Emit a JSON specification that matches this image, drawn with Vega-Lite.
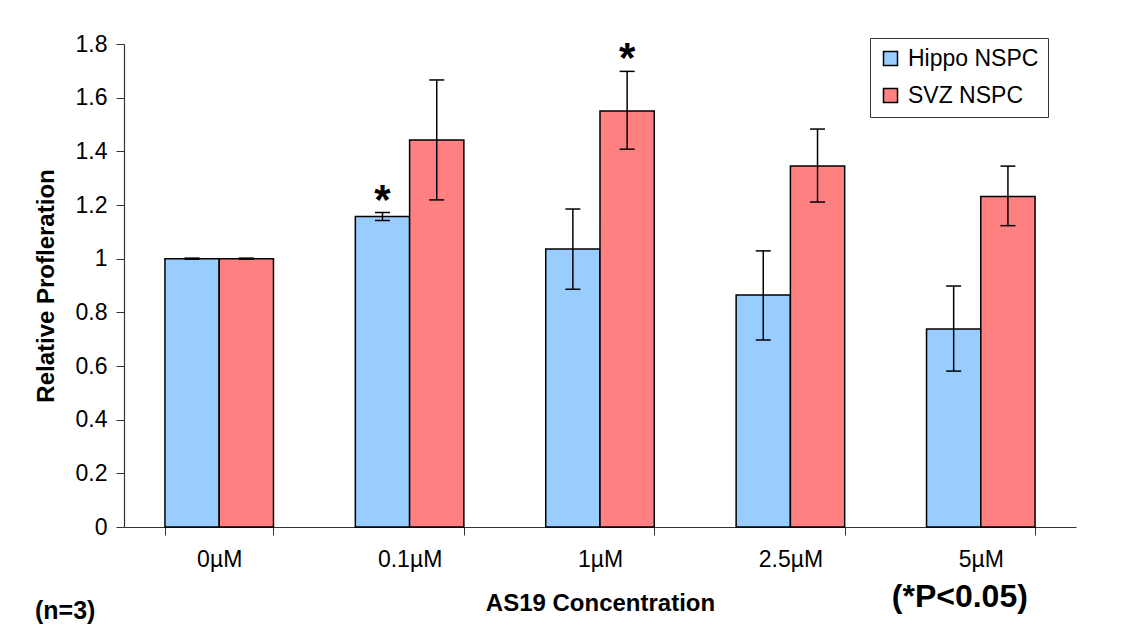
{
  "$schema": "https://vega.github.io/schema/vega-lite/v6.json",
  "width": 952,
  "height": 483,
  "autosize": "none",
  "padding": {"left": 124, "top": 44, "right": 70, "bottom": 115},
  "background": "white",
  "config": {
    "font": "Liberation Sans",
    "view": {"stroke": null}
  },
  "title": {
    "text": "(n=3)",
    "orient": "bottom",
    "anchor": "start",
    "frame": "group",
    "font": "Liberation Sans",
    "fontSize": 25,
    "fontWeight": "bold",
    "color": "black",
    "dx": -89,
    "dy": -16,
    "offset": 0
  },
  "data": {
    "values": [
      {"conc": "0µM", "group": "Hippo NSPC", "value": 1.0, "lo": 0.998, "hi": 1.002, "star": ""},
      {"conc": "0µM", "group": "SVZ NSPC", "value": 1.0, "lo": 0.998, "hi": 1.002, "star": ""},
      {"conc": "0.1µM", "group": "Hippo NSPC", "value": 1.157, "lo": 1.142, "hi": 1.172, "star": "*"},
      {"conc": "0.1µM", "group": "SVZ NSPC", "value": 1.442, "lo": 1.219, "hi": 1.666, "star": ""},
      {"conc": "1µM", "group": "Hippo NSPC", "value": 1.036, "lo": 0.886, "hi": 1.185, "star": ""},
      {"conc": "1µM", "group": "SVZ NSPC", "value": 1.55, "lo": 1.408, "hi": 1.698, "star": "*"},
      {"conc": "2.5µM", "group": "Hippo NSPC", "value": 0.865, "lo": 0.697, "hi": 1.029, "star": ""},
      {"conc": "2.5µM", "group": "SVZ NSPC", "value": 1.345, "lo": 1.211, "hi": 1.483, "star": ""},
      {"conc": "5µM", "group": "Hippo NSPC", "value": 0.738, "lo": 0.581, "hi": 0.898, "star": ""},
      {"conc": "5µM", "group": "SVZ NSPC", "value": 1.232, "lo": 1.123, "hi": 1.345, "star": ""}
    ]
  },
  "encoding": {
    "x": {
      "field": "conc",
      "type": "nominal",
      "sort": ["0µM", "0.1µM", "1µM", "2.5µM", "5µM"],
      "scale": {"paddingInner": 0.43, "paddingOuter": 0.215},
      "axis": {
        "title": "AS19 Concentration",
        "titleFontSize": 24,
        "titleFontWeight": "bold",
        "titleColor": "black",
        "titlePadding": 20,
        "labelAngle": 0,
        "labelFontSize": 23,
        "labelColor": "black",
        "labelPadding": 13,
        "tickBand": "extent",
        "tickSize": 8,
        "tickColor": "#333",
        "tickWidth": 1,
        "domainColor": "#333",
        "domainWidth": 1.2
      }
    },
    "xOffset": {
      "field": "group",
      "type": "nominal",
      "scale": {"paddingInner": 0, "paddingOuter": 0}
    }
  },
  "layer": [
    {
      "mark": {"type": "bar", "stroke": "black", "strokeWidth": 1.5},
      "encoding": {
        "y": {
          "field": "value",
          "type": "quantitative",
          "scale": {"domain": [0, 1.8], "nice": false},
          "axis": {
            "title": "Relative Profleration",
            "titleFontSize": 24,
            "titleFontWeight": "bold",
            "titleColor": "black",
            "titlePadding": 17,
            "values": [0, 0.2, 0.4, 0.6, 0.8, 1, 1.2, 1.4, 1.6, 1.8],
            "labelExpr": "'' + datum.value",
            "labelFontSize": 23,
            "labelColor": "black",
            "labelPadding": 9,
            "tickSize": 8,
            "tickColor": "#333",
            "domainColor": "#333",
            "domainWidth": 1.2,
            "grid": false
          }
        },
        "color": {
          "field": "group",
          "type": "nominal",
          "scale": {"domain": ["Hippo NSPC", "SVZ NSPC"], "range": ["#99CCFF", "#FF8080"]},
          "legend": {
            "title": null,
            "orient": "none",
            "legendX": 746,
            "legendY": -6,
            "symbolType": "square",
            "symbolSize": 196,
            "symbolStrokeColor": "black",
            "symbolStrokeWidth": 1.5,
            "symbolOpacity": 1,
            "labelFontSize": 23,
            "labelColor": "black",
            "labelOffset": 6,
            "rowPadding": 13,
            "padding": 9,
            "strokeColor": "#333",
            "fillColor": "white",
            "labelLimit": 300
          }
        }
      }
    },
    {
      "mark": {"type": "rule", "color": "black", "strokeWidth": 1.5},
      "encoding": {
        "y": {"field": "lo", "type": "quantitative"},
        "y2": {"field": "hi"}
      }
    },
    {
      "mark": {"type": "tick", "color": "black", "thickness": 1.5, "size": 15, "opacity": 1},
      "encoding": {
        "y": {"field": "lo", "type": "quantitative"}
      }
    },
    {
      "mark": {"type": "tick", "color": "black", "thickness": 1.5, "size": 15, "opacity": 1},
      "encoding": {
        "y": {"field": "hi", "type": "quantitative"}
      }
    },
    {
      "mark": {"type": "text", "fontSize": 42, "fontWeight": "bold", "color": "black", "baseline": "middle", "dy": -12},
      "encoding": {
        "y": {"field": "hi", "type": "quantitative"},
        "text": {"field": "star"}
      }
    },
    {
      "data": {"values": [{"conc": "5µM", "v": -0.26, "t": "(*P<0.05)"}]},
      "mark": {"type": "text", "fontSize": 32, "fontWeight": "bold", "color": "black", "baseline": "middle", "dx": -21},
      "encoding": {
        "x": {"field": "conc", "type": "nominal"},
        "xOffset": null,
        "y": {"field": "v", "type": "quantitative"},
        "text": {"field": "t"}
      }
    }
  ]
}
